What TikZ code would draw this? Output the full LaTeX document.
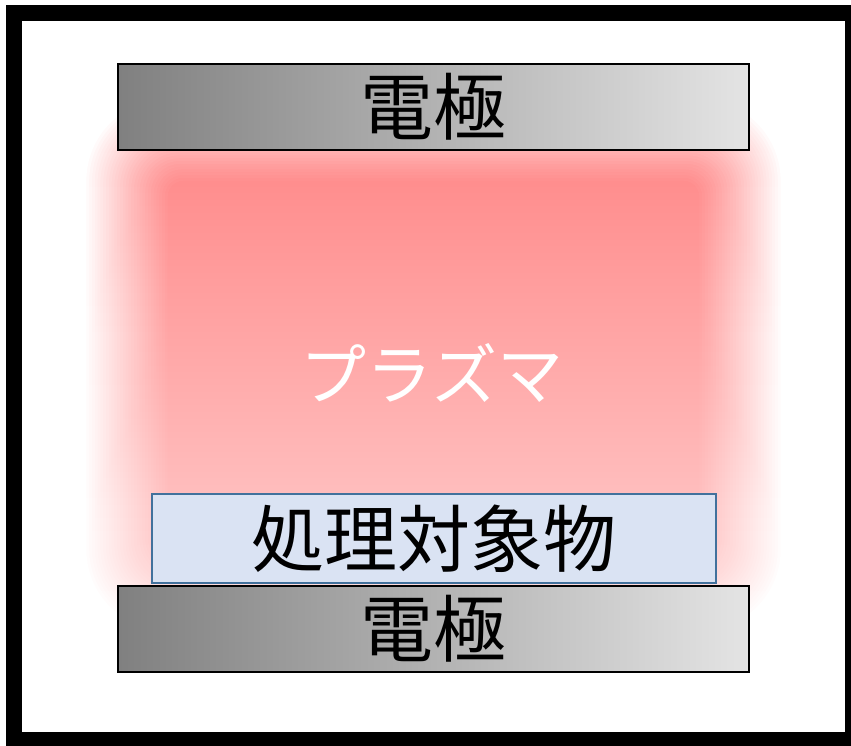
\documentclass[tikz,border=0pt]{standalone}
\usepackage{fontspec}
\setmainfont{Noto Sans CJK JP}
\definecolor{elecdark}{HTML}{808080}
\definecolor{eleclight}{HTML}{E4E4E4}
\definecolor{glowtop}{HTML}{FF8080}
\definecolor{glowbottom}{HTML}{FFD6D6}
\definecolor{workfill}{HTML}{DAE3F3}
\definecolor{workline}{HTML}{41719C}
\begin{document}
\begin{tikzpicture}[x=1pt,y=-1pt,
  electrode/.style={draw=black, line width=2.5pt, left color=elecdark, right color=eleclight,
    minimum width=631pt, minimum height=86pt, inner sep=0pt, font=\fontsize{73}{80}\selectfont},
  workpiece/.style={draw=workline, line width=2pt, fill=workfill,
    minimum width=564pt, minimum height=89pt, inner sep=0pt, font=\fontsize{73}{80}\selectfont},
  plasmalabel/.style={text=white, inner sep=0pt, font=\fontsize{66}{72}\selectfont}]
\useasboundingbox (0,0) rectangle (851,745);
\fill[white] (0,0) rectangle (851,745);

% plasma glow: vertical gradient, then a soft white mask around its edges
\shade[top color=glowtop, bottom color=glowbottom] (60,90) rectangle (810,660);
\foreach \k in {1,...,30}{
  \pgfmathsetmacro\d{-42+84*(\k-0.5)/30}
  \pgfmathsetmacro\a{1/(30-\k+1)}
  \pgfmathsetmacro\r{0.8*(\d+42)+15}
  \fill[white, fill opacity=\a, even odd rule]
    (-10,-10) rectangle (861,755)
    [rounded corners=\r pt] (127-\d,140-\d) rectangle (740+\d,590+\d);
}

\node[plasmalabel] (plasma) at (432,373) {プラズマ};

\node[electrode] (top) at (433.5,107) {電極};
\node[workpiece] (work) at (434,538.5) {処理対象物};
\node[electrode] (bottom) at (433.5,629) {電極};

% chamber wall
\draw[black, line width=16pt] (14,13) rectangle (853,740);
\end{tikzpicture}
\end{document}
